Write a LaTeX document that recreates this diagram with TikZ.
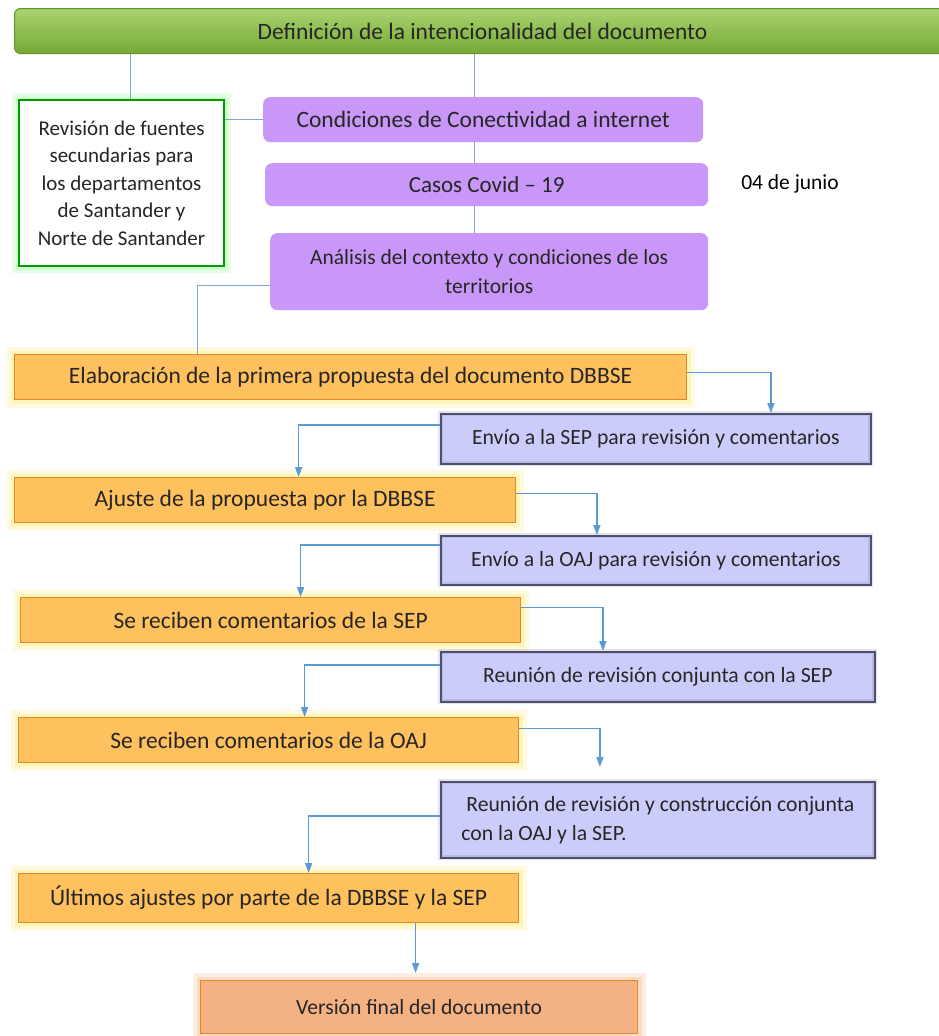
\documentclass[tikz,border=0pt]{standalone}
\usepackage{fontspec}
\setmainfont{Carlito}
\usetikzlibrary{arrows.meta}
\definecolor{verde}{HTML}{8CC540}
\definecolor{verdeosc}{HTML}{5E962C}
\definecolor{morado}{HTML}{C997F7}
\definecolor{naranja}{HTML}{FFC15E}
\definecolor{bordenar}{HTML}{E08A2A}
\definecolor{brillo}{HTML}{FFEF80}
\definecolor{lila}{HTML}{CCCCFA}
\definecolor{bordelila}{HTML}{4E4E6E}
\definecolor{salmon}{HTML}{F4B183}
\definecolor{gristrazo}{HTML}{7FA7CF}
\definecolor{azul}{HTML}{5B9BD5}
\begin{document}
\begin{tikzpicture}[x=1pt,y=-1pt,
  caja/.style={anchor=north west,inner sep=0pt,align=center,text=black!85,
    font=\fontsize{23.5}{28}\selectfont},
  fase/.style={caja,fill=morado,rounded corners=7pt},
  paso/.style={caja,fill=naranja,draw=bordenar,line width=1.2pt,
    preaction={draw=brillo,line width=16pt,opacity=.25},
    preaction={draw=brillo,line width=8pt,opacity=.4}},
  envio/.style={caja,fill=lila,draw=bordelila,line width=1.8pt,
    postaction={draw=bordelila,line width=5pt,opacity=.15},
    font=\fontsize{21.7}{29}\selectfont},
  enlace/.style={draw=gristrazo,line width=1pt},
  flecha/.style={draw=azul,line width=1.5pt,-{Triangle[length=10pt,width=7pt]}}]
\fill[white] (0,0) rectangle (939,1036);
\useasboundingbox (0,0) rectangle (939,1036);
\coordinate (eje) at (474,0);
\coordinate (eje2) at (130,0);

% cabecera y contexto
\node[caja,minimum width=936,minimum height=45,rounded corners=6pt,
  top color=verde!75!white,bottom color=verde!85!black,draw=verdeosc,line width=1pt]
  (def) at (14,8) {Definición de la intencionalidad del documento};
\node[caja,minimum width=205,minimum height=166,fill=white,draw=green!60!black,
  line width=2pt,preaction={draw=green!30,line width=14pt,opacity=.3},
  preaction={draw=green!30,line width=7pt,opacity=.5},
  font=\fontsize{21}{27.5}\selectfont] (rev) at (18,99)
  {Revisión de fuentes\\secundarias para\\los departamentos\\de Santander y\\Norte de Santander};
\node[fase,minimum width=440,minimum height=45] (con) at (263,97) {Condiciones de Conectividad a internet};
\node[fase,minimum width=443,minimum height=43,font=\fontsize{23}{28}\selectfont] (cov) at (265,163) {Casos Covid – 19};
\node[fase,minimum width=438,minimum height=77,font=\fontsize{21.5}{29}\selectfont]
  (ana) at (270,233) {Análisis del contexto y condiciones de los\\territorios};
\node[font=\fontsize{21.5}{24}\selectfont] (fecha) at (790,184) {04 de junio};

% pasos del documento
\node[paso,minimum width=672,minimum height=45] (p1) at (14,354) {Elaboración de la primera propuesta del documento DBBSE};
\node[envio,minimum width=430,minimum height=50] (e1) at (440,413) {Envío a la SEP para revisión y comentarios};
\node[paso,minimum width=501,minimum height=45] (p2) at (14,477) {Ajuste de la propuesta por la DBBSE};
\node[envio,minimum width=430,minimum height=49] (e2) at (440,535) {Envío a la OAJ para revisión y comentarios};
\node[paso,minimum width=500,minimum height=45] (p3) at (20,597) {Se reciben comentarios de la SEP};
\node[envio,minimum width=434,minimum height=50] (e3) at (440,651) {Reunión de revisión conjunta con la SEP};
\node[paso,minimum width=500,minimum height=45] (p4) at (18,717) {Se reciben comentarios de la OAJ};
\node[envio,minimum width=434,minimum height=76,align=left] (e4) at (440,781)
  {\ Reunión de revisión y construcción conjunta\\con la OAJ y la SEP.};
\node[paso,minimum width=500,minimum height=49] (p5) at (18,873) {Últimos ajustes por parte de la DBBSE y la SEP};
\node[caja,minimum width=437,minimum height=53,fill=salmon,draw=bordenar,line width=1.2pt,
  preaction={draw=salmon!70,line width=16pt,opacity=.3},
  preaction={draw=salmon!70,line width=8pt,opacity=.5},
  font=\fontsize{21.6}{26}\selectfont] (fin) at (200,980) {Versión final del documento};

% lineas
\draw[enlace] (def.south -| eje2) -- (rev.north -| eje2);
\draw[enlace] (def.south -| eje) -- (con.north -| eje);
\draw[enlace] (con.south -| eje) -- (cov.north -| eje);
\draw[enlace] (cov.south -| eje) -- (ana.north -| eje);
\draw[enlace] (con.west) -- (con.west -| rev.east);
\draw[enlace] ([yshift=-13.5pt]ana.west) -| ([xshift=-153pt]p1.north);

% flechas
\draw[flecha] ([yshift=4.5pt]p1.east) -| ([xshift=115pt]e1.north);
\draw[flecha] ([yshift=14pt]e1.west) -| ([xshift=33.5pt]p2.north);
\draw[flecha] ([yshift=6.5pt]p2.east) -| ([xshift=-59pt]e2.north);
\draw[flecha] ([yshift=15.5pt]e2.west) -| ([xshift=30pt]p3.north);
\draw[flecha] ([yshift=12.5pt]p3.east) -| ([xshift=-55pt]e3.north);
\draw[flecha] ([yshift=12pt]e3.west) -| ([xshift=36pt]p4.north);
\draw[flecha,shorten >=14pt] ([yshift=11.5pt]p4.east) -| ([xshift=-58pt]e4.north);
\draw[flecha] ([yshift=4pt]e4.west) -| ([xshift=40pt]p5.north);
\draw[flecha,shorten >=7pt] ([xshift=-3.5pt]fin.north |- p5.south) -- ([xshift=-3.5pt]fin.north);
\end{tikzpicture}
\end{document}
